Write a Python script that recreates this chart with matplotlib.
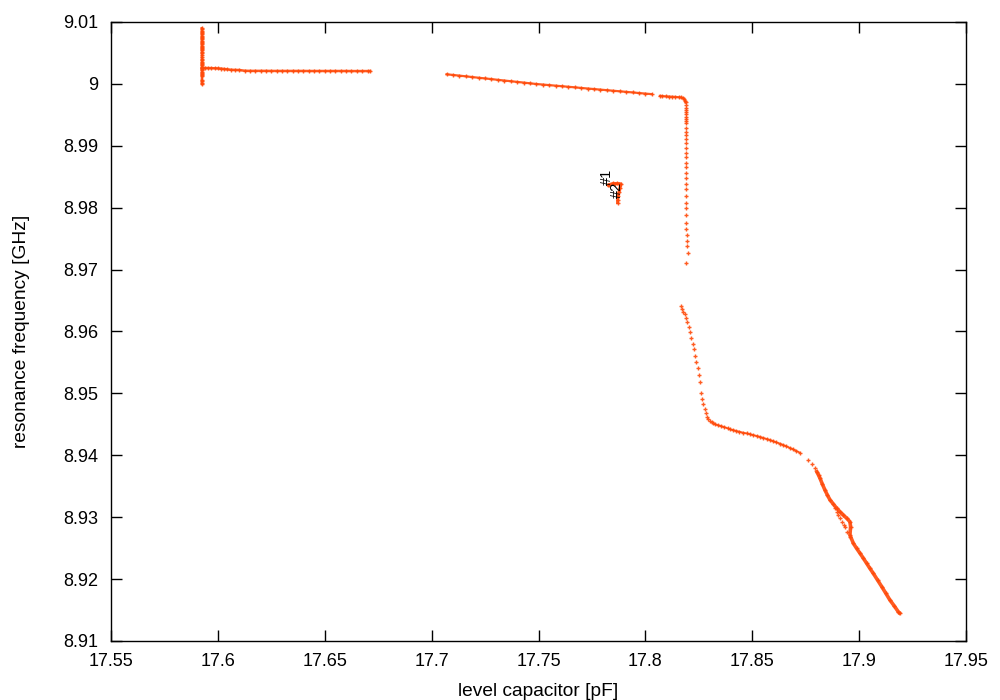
import matplotlib
matplotlib.use("Agg")
import matplotlib.pyplot as plt

plt.rcParams['font.family'] = ['Liberation Sans', 'DejaVu Sans']

# --- datos ---
# grupo vertical a la izquierda
a_x = [17.5925, 17.5926, 17.5925, 17.5926, 17.5925, 17.5926, 17.5925, 17.5926, 17.5925, 17.5926,
       17.5925, 17.5926, 17.5925, 17.5926, 17.5925, 17.5926, 17.5925, 17.5926, 17.5925, 17.5926,
       17.5925, 17.5926, 17.5925, 17.5926, 17.5925, 17.5926, 17.5925, 17.5926, 17.5925, 17.5926,
       17.5925, 17.5926, 17.5925, 17.5926, 17.5925, 17.5926, 17.5925, 17.5926, 17.5925, 17.5926,
       17.5925, 17.5926]
a_y = [9.0090, 9.0088, 9.0086, 9.0084, 9.0082, 9.0080, 9.0078, 9.0076, 9.0074, 9.0072,
       9.0070, 9.0068, 9.0066, 9.0064, 9.0062, 9.0060, 9.0058, 9.0056, 9.0054, 9.0052,
       9.0050, 9.0046, 9.0043, 9.0040, 9.0038, 9.0036, 9.0034, 9.0032, 9.0030, 9.0028,
       9.0026, 9.0024, 9.0022, 9.0020, 9.0018, 9.0016, 9.0014, 9.0012, 9.0006, 9.0004,
       9.0002, 9.0000]

# tramo horizontal superior izquierdo
b_x = [17.5926, 17.5940, 17.5955, 17.5970, 17.5985, 17.6000, 17.6015, 17.6030, 17.6045, 17.6060,
       17.6080, 17.6100, 17.6125, 17.6150, 17.6175, 17.6200, 17.6225, 17.6250, 17.6275, 17.6300,
       17.6325, 17.6350, 17.6375, 17.6400, 17.6425, 17.6450, 17.6475, 17.6500, 17.6525, 17.6550,
       17.6575, 17.6600, 17.6625, 17.6650, 17.6675, 17.6700, 17.6712]
b_y = [9.00257, 9.00256, 9.00255, 9.00254, 9.00252, 9.00250, 9.00246, 9.00240, 9.00234, 9.00228,
       9.00225, 9.00224, 9.00212, 9.00210, 9.00210, 9.00210, 9.00210, 9.00209, 9.00209, 9.00209,
       9.00209, 9.00209, 9.00209, 9.00209, 9.00208, 9.00208, 9.00208, 9.00208, 9.00208, 9.00208,
       9.00208, 9.00208, 9.00207, 9.00207, 9.00207, 9.00207, 9.00207]

# tramo superior inclinado
c_x = [17.707, 17.710, 17.713, 17.716, 17.719, 17.722, 17.725, 17.728, 17.731, 17.734,
       17.737, 17.740, 17.743, 17.746, 17.749, 17.752, 17.755, 17.758, 17.761, 17.764,
       17.767, 17.770, 17.773, 17.776, 17.779, 17.782, 17.785, 17.788, 17.791, 17.794,
       17.797, 17.800, 17.803]
c_y = [9.00155, 9.00144, 9.00133, 9.00122, 9.00110, 9.00099, 9.00088, 9.00077, 9.00065, 9.00054,
       9.00043, 9.00032, 9.00021, 9.00009, 8.99998, 8.99989, 8.99980, 8.99971, 8.99962, 8.99953,
       8.99944, 8.99934, 8.99925, 8.99916, 8.99907, 8.99898, 8.99889, 8.99880, 8.99871, 8.99862,
       8.99852, 8.99843, 8.99834]

# codo superior derecho
d_x = [17.8068, 17.8080, 17.8095, 17.8110, 17.8125, 17.8140, 17.8155, 17.8168, 17.8176, 17.8182,
       17.8186, 17.8188]
d_y = [8.99805, 8.99802, 8.99798, 8.99795, 8.99792, 8.99789, 8.99785, 8.99780, 8.99772, 8.99755,
       8.99730, 8.99700]

# caida vertical (puntos sueltos)
v_x = [17.8189, 17.8189, 17.8190, 17.8189, 17.8190, 17.8189, 17.8190, 17.8189, 17.8190, 17.8189,
       17.8190, 17.8190, 17.8189, 17.8190, 17.8190, 17.8191, 17.8190, 17.8191, 17.8190, 17.8191,
       17.8190, 17.8191, 17.8190, 17.8191, 17.8191, 17.8192, 17.8191, 17.8192, 17.8192, 17.8194,
       17.8196, 17.8197, 17.8199, 17.8190]
v_y = [8.99659, 8.99616, 8.99578, 8.99541, 8.99509, 8.99470, 8.99428, 8.99405, 8.99363, 8.99292,
       8.99228, 8.99174, 8.99105, 8.99040, 8.98960, 8.98889, 8.98814, 8.98727, 8.98653, 8.98565,
       8.98475, 8.98383, 8.98297, 8.98189, 8.98081, 8.97990, 8.97882, 8.97758, 8.97651, 8.97559,
       8.97467, 8.97386, 8.97263, 8.97102]

# curva de bajada (puntos sueltos)
e_x = [17.8167, 17.8170, 17.8177, 17.8184, 17.8190, 17.8195, 17.8204, 17.8209, 17.8213, 17.8223,
       17.8227, 17.8232, 17.8238, 17.8246, 17.8251, 17.8256, 17.8260, 17.8265, 17.8271, 17.8278,
       17.8284, 17.8288, 17.8294, 17.8302, 17.8310, 17.8318]
e_y = [8.96412, 8.96363, 8.96320, 8.96278, 8.96213, 8.96158, 8.96078, 8.95987, 8.95900, 8.95803,
       8.95712, 8.95604, 8.95502, 8.95405, 8.95297, 8.95189, 8.95002, 8.94910, 8.94829, 8.94748,
       8.94679, 8.94624, 8.94586, 8.94554, 8.94533, 8.94517]

# tramo casi recto
f_x = [17.8326, 17.8340, 17.8355, 17.8370, 17.8385, 17.8396, 17.8410, 17.8425, 17.8440, 17.8458,
       17.8475, 17.8490, 17.8505, 17.8521, 17.8537, 17.8552, 17.8568, 17.8583, 17.8598, 17.8613,
       17.8630, 17.8645, 17.8660, 17.8675, 17.8690, 17.8705, 17.8723]
f_y = [8.94501, 8.94486, 8.94470, 8.94454, 8.94436, 8.94420, 8.94408, 8.94393, 8.94381, 8.94365,
       8.94353, 8.94340, 8.94326, 8.94312, 8.94296, 8.94280, 8.94263, 8.94247, 8.94228, 8.94208,
       8.94188, 8.94166, 8.94144, 8.94121, 8.94098, 8.94072, 8.94042]

# puntos sueltos antes del tramo final
g_x = [17.8762, 17.8778, 17.8794]
g_y = [8.93929, 8.93864, 8.93798]

# tramo final denso
h_x = [17.8802, 17.8810, 17.8817, 17.8828, 17.8840, 17.8852, 17.8864, 17.8880, 17.8895, 17.8910,
       17.8926, 17.8942, 17.8957, 17.8960, 17.8957, 17.8973, 17.8988, 17.9004, 17.9020, 17.9035,
       17.9050, 17.9066, 17.9086, 17.9106, 17.9125, 17.9144, 17.9164, 17.9183, 17.9189]
h_y = [8.93735, 8.93680, 8.93628, 8.93535, 8.93439, 8.93355, 8.93278, 8.93210, 8.93144, 8.93090,
       8.93036, 8.92982, 8.92927, 8.92847, 8.92712, 8.92578, 8.92497, 8.92417, 8.92336, 8.92255,
       8.92175, 8.92094, 8.91985, 8.91877, 8.91770, 8.91662, 8.91568, 8.91473, 8.91452]

# rama secundaria
s_x = [17.8887, 17.8895, 17.8903, 17.8911, 17.8919, 17.8927, 17.8934, 17.8945, 17.8957]
s_y = [8.93144, 8.93090, 8.93036, 8.92980, 8.92927, 8.92880, 8.92837, 8.92766, 8.92685]

# grupo aislado con etiquetas
k_x = [17.7827, 17.7830, 17.7849, 17.7858, 17.7867, 17.7876, 17.7886, 17.7881, 17.7877, 17.7873,
       17.7870, 17.7870]
k_y = [8.98367, 8.98372, 8.98391, 8.98390, 8.98391, 8.98388, 8.98383, 8.98318, 8.98254, 8.98189,
       8.98124, 8.98081]

etiquetas = ["#1", "#2"]
etiq_x = [17.7822, 17.7865]
etiq_y = [8.98360, 8.98150]

x_ticks = [17.55, 17.6, 17.65, 17.7, 17.75, 17.8, 17.85, 17.9, 17.95]
x_tick_labels = ["17.55", "17.6", "17.65", "17.7", "17.75", "17.8", "17.85", "17.9", "17.95"]
y_ticks = [8.91, 8.92, 8.93, 8.94, 8.95, 8.96, 8.97, 8.98, 8.99, 9.0, 9.01]
y_tick_labels = ["8.91", "8.92", "8.93", "8.94", "8.95", "8.96", "8.97", "8.98", "8.99", "9", "9.01"]

color = "#ff4a0a"

fig = plt.figure(figsize=(10, 7), dpi=100)
ax = fig.add_axes([0.111, 0.0843, 0.855, 0.8843])

# tramos densos: linea + marcadores
for xs, ys, lw in [(a_x, a_y, 1.8), (b_x, b_y, 1.8), (c_x, c_y, 1.6), (d_x, d_y, 1.6),
                   (f_x, f_y, 1.3), (h_x, h_y, 2.6), (k_x, k_y, 2.2)]:
    ax.plot(xs, ys, color=color, lw=lw, marker="+", ms=3.5, mew=1.0, alpha=0.9)

# tramos con puntos sueltos
for xs, ys in [(v_x, v_y), (e_x, e_y), (g_x, g_y), (s_x, s_y)]:
    ax.plot(xs, ys, color=color, lw=0, marker="+", ms=3.5, mew=1.0, alpha=0.9)

for t, tx, ty in zip(etiquetas, etiq_x, etiq_y):
    ax.text(tx, ty, t, rotation=90, ha="center", va="bottom", fontsize=10.5, color="black")

ax.set_xlim(17.55, 17.95)
ax.set_ylim(8.91, 9.01)
ax.set_xticks(x_ticks)
ax.set_xticklabels(x_tick_labels)
ax.set_yticks(y_ticks)
ax.set_yticklabels(y_tick_labels)
ax.tick_params(direction="in", length=8, width=1, top=True, right=True, labelsize=13, pad=9)
for sp in ax.spines.values():
    sp.set_linewidth(1)

ax.set_xlabel("level capacitor [pF]", fontsize=13.8, labelpad=9)
ax.set_ylabel("resonance frequency [GHz]", fontsize=13.8, labelpad=24)

fig.savefig("out.png", dpi=100)
